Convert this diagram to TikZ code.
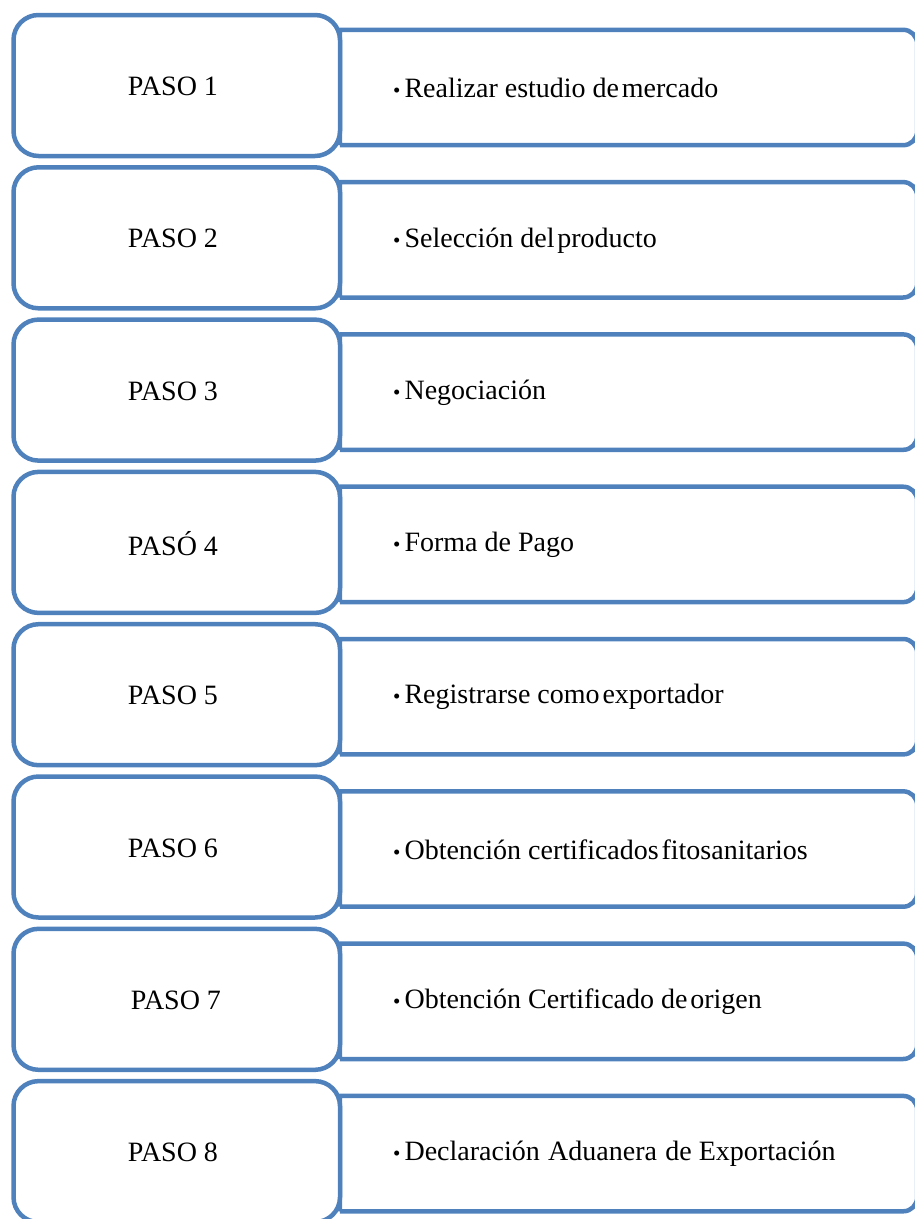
\documentclass[tikz,border=0pt]{standalone}
\usepackage{fontspec}
\setmainfont{Liberation Serif}
\definecolor{stepblue}{RGB}{79,129,189}
\newcommand{\smallbullet}{{\fontsize{21}{21}\selectfont •}\hspace{4pt}}
\begin{document}
\begin{tikzpicture}[x=1pt,y=-1pt,
  stepbox/.style={draw=stepblue,line width=4.5pt,rounded corners=25pt,
    minimum width=326.5pt,minimum height=141pt,inner sep=0pt,fill=white},
  steplabel/.style={inner sep=0pt,font=\fontsize{28}{32}\selectfont},
  detailbox/.style={draw=none,minimum width=577pt,minimum height=115pt,inner sep=0pt},
  detailline/.style={draw=stepblue,line width=4.5pt,line join=round},
  detailtext/.style={anchor=west,inner sep=0pt,font=\fontsize{28}{32}\selectfont}
]
\useasboundingbox (0,0) rectangle (914,1219);
\foreach \i/\paso/\lx/\texto in {
  1/PASO 1/173/Realizar estudio de\hspace{0.1em}mercado,
  2/PASO 2/173/Selección del\hspace{0.1em}producto,
  3/PASO 3/173/Negociación,
  4/PASÓ 4/173/Forma de Pago,
  5/PASO 5/173/Registrarse como\hspace{0.1em}exportador,
  6/PASO 6/173/Obtención certificados\hspace{0.1em}fitosanitarios,
  7/PASO 7/176/Obtención Certificado de\hspace{0.1em}origen,
  8/PASO 8/173/Declaración\hspace{0.3em}Aduanera\hspace{0.3em}de Exportación}{
  \pgfmathsetmacro{\yy}{152.3*(\i-1)}
  % detail panel to the right of each step
  \node[detailbox] (R\i) at (628.5,87.5+\yy) {};
  \draw[detailline] (R\i.south west) -- (R\i.north west)
    [rounded corners=14pt] -- (R\i.north east) -- (R\i.south east)
    [sharp corners] -- (R\i.south west);
  \node[detailtext] (T\i) at (393,88+\yy) {\smallbullet\texto};
  % step box with its label
  \node[stepbox] (L\i) at (176.75,85.5+\yy) {};
  \node[steplabel] (P\i) at (\lx,86.5+\yy) {\paso};
}
\end{tikzpicture}
\end{document}
